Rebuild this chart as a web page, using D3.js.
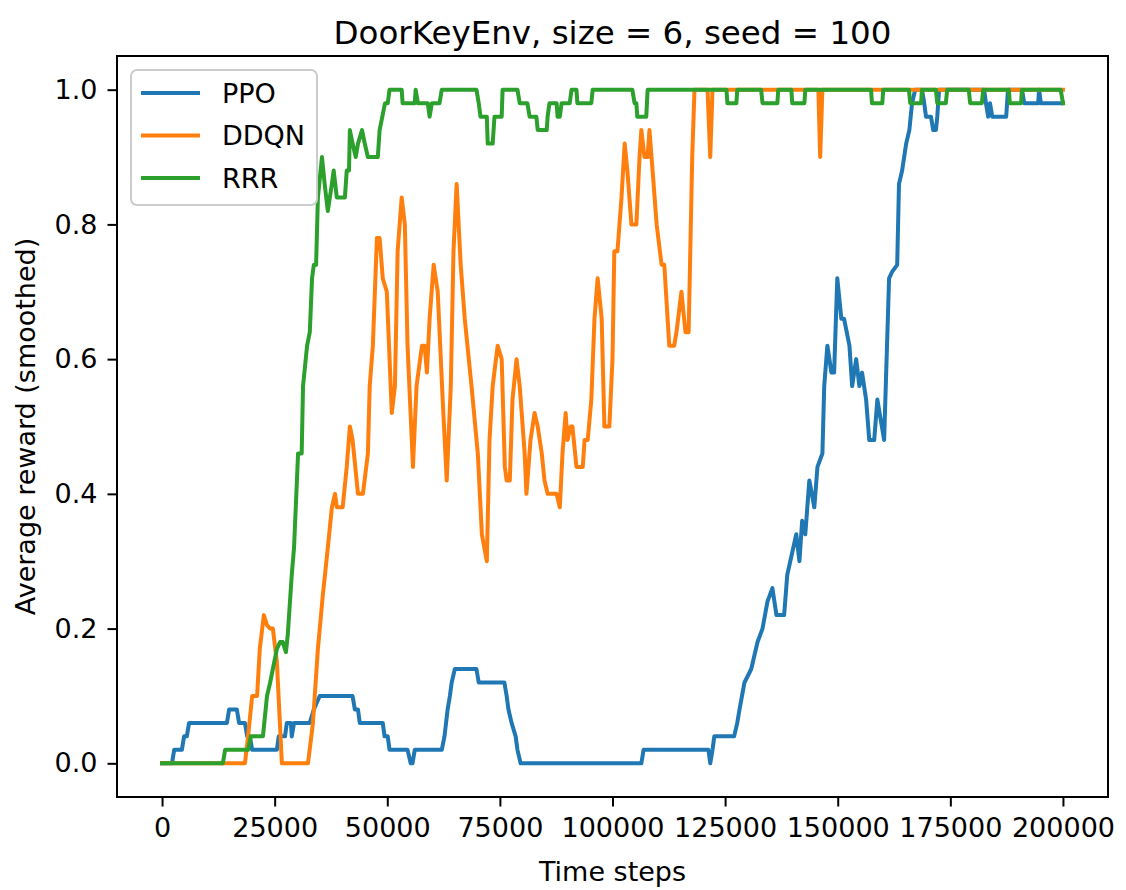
<!DOCTYPE html>
<html>
<head>
<meta charset="utf-8">
<script src="https://cdn.jsdelivr.net/npm/d3@7"></script>
<style>
  html, body { margin: 0; padding: 0; background: #fff; }
  text { font-family: "DejaVu Sans", sans-serif; fill: #000; }
</style>
</head>
<body>
<div id="chart"></div>
<script>
// Chart text
const title = 'DoorKeyEnv, size = 6, seed = 100';
const xLabel = 'Time steps';
const yLabel = 'Average reward (smoothed)';
const seriesNames = ['PPO', 'DDQN', 'RRR'];
const seriesColors = ['#1f77b4', '#ff7f0e', '#2ca02c'];
const xTicks = [0, 25000, 50000, 75000, 100000, 125000, 150000, 175000, 200000];
const yTicks = [0.0, 0.2, 0.4, 0.6, 0.8, 1.0];

// Smoothed reward, [time step, value]
const ppo = [
  [0, 0], [2200, 0], [2700, 0.02], [4400, 0.02], [4900, 0.04], [5500, 0.04], [6000, 0.06],
  [14400, 0.06], [14900, 0.08], [16600, 0.08], [17100, 0.06], [18400, 0.06], [18900, 0.04],
  [19500, 0.04], [20000, 0.02], [25500, 0.02], [25900, 0.04], [27300, 0.04], [27700, 0.06],
  [28600, 0.06], [28800, 0.04], [29300, 0.06], [32800, 0.06], [33700, 0.08], [35000, 0.10],
  [42300, 0.10], [42800, 0.08], [43500, 0.08], [43900, 0.06], [49000, 0.06], [49400, 0.04],
  [50100, 0.04], [50500, 0.02], [54500, 0.02], [55200, 0], [55600, 0], [56100, 0.02],
  [62100, 0.02], [62700, 0.04], [63400, 0.08], [63900, 0.10], [64300, 0.12], [65000, 0.14],
  [69800, 0.14], [70300, 0.12], [76000, 0.12], [76500, 0.10], [76900, 0.08], [77600, 0.06],
  [78500, 0.04], [78900, 0.02], [79600, 0], [106400, 0], [106900, 0.02], [121300, 0.02],
  [121700, 0], [122200, 0.02], [122600, 0.04], [127000, 0.04], [127700, 0.06], [128200, 0.08],
  [129300, 0.12], [130800, 0.14], [132200, 0.18], [133300, 0.20], [134400, 0.24], [135500, 0.26],
  [136400, 0.22], [138100, 0.22], [138800, 0.28], [140800, 0.34], [141500, 0.30], [142100, 0.36],
  [142800, 0.34], [143700, 0.42], [144800, 0.38], [145500, 0.44], [146600, 0.46], [147000, 0.56],
  [147700, 0.62], [148600, 0.58], [149200, 0.58], [149900, 0.72], [150800, 0.66], [151400, 0.66],
  [152600, 0.62], [153200, 0.56], [154100, 0.60], [154800, 0.56], [155400, 0.58], [156300, 0.54],
  [157000, 0.48], [158100, 0.48], [158800, 0.54], [160300, 0.48], [161400, 0.72], [162100, 0.73],
  [163200, 0.74], [163600, 0.86], [164300, 0.88], [165200, 0.92], [165900, 0.94], [166500, 0.98],
  [167200, 1.0], [168700, 1.0], [169200, 0.98], [169600, 0.96], [170700, 0.96], [171200, 0.94],
  [171800, 0.94], [172100, 0.96], [172500, 1.0], [182500, 1.0], [182900, 0.98], [183400, 0.96],
  [183800, 0.98], [184300, 0.96], [187400, 0.96], [187800, 1.0], [190900, 1.0], [191400, 0.98],
  [194500, 0.98], [194700, 1.0], [195100, 0.98], [200000, 0.98]
];

const ddqn = [
  [0, 0], [18400, 0], [19100, 0.04], [20000, 0.10], [21100, 0.10], [21700, 0.17], [22600, 0.22],
  [23300, 0.205], [24000, 0.20], [24600, 0.20], [25500, 0.15], [26600, 0], [32400, 0],
  [33500, 0.06], [34600, 0.17], [35700, 0.25], [36800, 0.32], [37700, 0.38], [38400, 0.40],
  [38800, 0.38], [40100, 0.38], [41000, 0.44], [41700, 0.50], [42300, 0.48], [43500, 0.40],
  [44600, 0.40], [45700, 0.46], [46100, 0.56], [46800, 0.62], [47700, 0.78], [48300, 0.78],
  [49000, 0.72], [49900, 0.70], [51000, 0.52], [51700, 0.56], [52300, 0.76], [53200, 0.84],
  [53900, 0.80], [54500, 0.62], [55700, 0.44], [56500, 0.56], [57700, 0.62], [58300, 0.62],
  [58800, 0.58], [59400, 0.66], [60300, 0.74], [61200, 0.70], [62300, 0.54], [63200, 0.42],
  [64100, 0.56], [64700, 0.76], [65400, 0.86], [66300, 0.74], [67200, 0.66], [68700, 0.56],
  [70100, 0.46], [71000, 0.34], [72100, 0.30], [72700, 0.48], [73400, 0.56], [74500, 0.62],
  [75400, 0.60], [76100, 0.44], [76500, 0.42], [77200, 0.42], [77800, 0.54], [78700, 0.60],
  [79400, 0.56], [80500, 0.46], [80900, 0.40], [81800, 0.48], [82700, 0.52], [83400, 0.50],
  [84300, 0.46], [84900, 0.42], [85600, 0.40], [87600, 0.40], [88300, 0.38], [88900, 0.46],
  [89600, 0.52], [90000, 0.48], [90700, 0.50], [91100, 0.50], [92000, 0.44], [93400, 0.44],
  [93800, 0.48], [94500, 0.48], [95300, 0.54], [96000, 0.66], [96700, 0.72], [97600, 0.66],
  [98200, 0.50], [99300, 0.50], [100000, 0.60], [100400, 0.76], [101100, 0.76], [102000, 0.84],
  [102700, 0.92], [103300, 0.88], [104200, 0.80], [105300, 0.80], [106000, 0.90], [106400, 0.94],
  [107100, 0.90], [107800, 0.90], [108200, 0.94], [108900, 0.88], [109800, 0.80], [110900, 0.74],
  [111500, 0.74], [112600, 0.62], [113700, 0.62], [114200, 0.64], [115300, 0.70], [116200, 0.64],
  [116900, 0.64], [117700, 0.90], [118200, 1.0], [121100, 1.0], [121700, 0.90], [122200, 1.0],
  [145700, 1.0], [146100, 0.90], [146600, 1.0], [200000, 1.0]
];

const rrr = [
  [0, 0], [13500, 0], [14000, 0.02], [19100, 0.02], [19700, 0.04], [22400, 0.04], [23300, 0.10],
  [24000, 0.12], [24600, 0.14], [25500, 0.17], [26200, 0.18], [26800, 0.18], [27500, 0.165],
  [27900, 0.19], [28800, 0.28], [29300, 0.32], [30200, 0.46], [31000, 0.46], [31300, 0.56],
  [32200, 0.62], [32800, 0.64], [33300, 0.72], [33700, 0.74], [34200, 0.74], [34600, 0.84],
  [35500, 0.90], [36100, 0.86], [36800, 0.82], [37700, 0.86], [38100, 0.88], [38800, 0.84],
  [40600, 0.84], [41000, 0.88], [41500, 0.88], [41700, 0.94], [42300, 0.92], [43000, 0.90],
  [43500, 0.92], [44400, 0.94], [45000, 0.92], [45700, 0.90], [47900, 0.90], [48300, 0.94],
  [49500, 0.98], [50100, 0.98], [50500, 1.0], [53200, 1.0], [53400, 0.98], [56100, 0.98],
  [56300, 1.0], [56800, 0.98], [59000, 0.98], [59400, 0.96], [59900, 0.98], [61600, 0.98],
  [62100, 1.0], [69800, 1.0], [70300, 0.98], [70700, 0.96], [72100, 0.96], [72300, 0.92],
  [73400, 0.92], [73800, 0.96], [75400, 0.96], [75600, 1.0], [78900, 1.0], [79400, 0.98],
  [81100, 0.98], [81600, 0.96], [83100, 0.96], [83400, 0.94], [85400, 0.94], [85600, 0.96],
  [86000, 0.98], [87600, 0.98], [87800, 0.96], [88300, 0.96], [88700, 0.98], [90500, 0.98],
  [90900, 1.0], [92000, 1.0], [92200, 0.98], [95300, 0.98], [95600, 1.0], [104400, 1.0],
  [104900, 0.98], [105300, 0.98], [105500, 0.96], [107500, 0.96], [107800, 1.0], [125300, 1.0],
  [125500, 0.98], [127500, 0.98], [127700, 1.0], [133000, 1.0], [133300, 0.98], [136600, 0.98],
  [136800, 1.0], [139700, 1.0], [139900, 0.98], [142600, 0.98], [142800, 1.0], [157400, 1.0],
  [157600, 0.98], [159900, 0.98], [160100, 1.0], [165800, 1.0], [166100, 0.98], [168500, 0.98],
  [168700, 1.0], [171800, 1.0], [172100, 0.98], [174000, 0.98], [174300, 1.0], [179100, 1.0],
  [179400, 0.98], [182000, 0.98], [182300, 1.0], [188000, 1.0], [188200, 0.98], [190700, 0.98],
  [190900, 1.0], [199500, 1.0], [200000, 0.98]
];

const series = [ppo, ddqn, rrr];

/*
 * Layout
 */
const width = 1126;
const height = 890;
const plot = { left: 117, right: 1108, top: 56, bottom: 797 };
const fontSize = 27;

const svg = d3.select('#chart')
  .append('svg')
  .attr('width', width)
  .attr('height', height);

// matplotlib style 5% margins around the data
const x = d3.scaleLinear()
  .domain([-10000, 210000])
  .range([plot.left, plot.right]);
const y = d3.scaleLinear()
  .domain([-0.05, 1.05])
  .range([plot.bottom, plot.top]);

/*
 * Lines
 */
const line = d3.line()
  .x((d) => x(d[0]))
  .y((d) => y(d[1]));

svg.append('defs').append('clipPath')
  .attr('id', 'plot-clip')
  .append('rect')
  .attr('x', plot.left)
  .attr('y', plot.top)
  .attr('width', plot.right - plot.left)
  .attr('height', plot.bottom - plot.top);

svg.append('g')
  .attr('clip-path', 'url(#plot-clip)')
  .selectAll('path')
  .data(series)
  .enter()
  .append('path')
  .attr('d', line)
  .attr('fill', 'none')
  .attr('stroke', (d, i) => seriesColors[i])
  .attr('stroke-width', 4)
  .attr('stroke-linejoin', 'round')
  .attr('stroke-linecap', 'square');

/*
 * Axes
 */
const xAxis = d3.axisBottom(x)
  .tickValues(xTicks)
  .tickFormat(d3.format('d'))
  .tickSizeInner(9.5)
  .tickSizeOuter(0)
  .tickPadding(9.5);
const yAxis = d3.axisLeft(y)
  .tickValues(yTicks)
  .tickFormat(d3.format('.1f'))
  .tickSizeInner(9.5)
  .tickSizeOuter(0)
  .tickPadding(10);

const gx = svg.append('g')
  .attr('transform', 'translate(0,' + plot.bottom + ')')
  .call(xAxis);
const gy = svg.append('g')
  .attr('transform', 'translate(' + plot.left + ',0)')
  .call(yAxis);

[gx, gy].forEach((g) => {
  g.select('.domain').remove();
  g.selectAll('line').attr('stroke', '#000').attr('stroke-width', 2);
  g.selectAll('text')
    .attr('font-family', '"DejaVu Sans", sans-serif')
    .attr('font-size', fontSize)
    .attr('fill', '#000');
});
gx.selectAll('text').attr('dy', '0.78em');

// Frame round the plot area
svg.append('rect')
  .attr('x', plot.left)
  .attr('y', plot.top)
  .attr('width', plot.right - plot.left)
  .attr('height', plot.bottom - plot.top)
  .attr('fill', 'none')
  .attr('stroke', '#000')
  .attr('stroke-width', 2);

/*
 * Texts
 */
svg.append('text')
  .attr('x', (plot.left + plot.right) / 2)
  .attr('y', 44)
  .attr('text-anchor', 'middle')
  .attr('font-size', 32.5)
  .text(title);

svg.append('text')
  .attr('x', (plot.left + plot.right) / 2)
  .attr('y', 881)
  .attr('text-anchor', 'middle')
  .attr('font-size', fontSize)
  .text(xLabel);

svg.append('text')
  .attr('transform', 'translate(35,' + (plot.top + plot.bottom) / 2 + ') rotate(-90)')
  .attr('text-anchor', 'middle')
  .attr('font-size', fontSize)
  .text(yLabel);

/*
 * Legend
 */
const legend = svg.append('g')
  .attr('transform', 'translate(131,70)');

legend.append('rect')
  .attr('width', 186)
  .attr('height', 135)
  .attr('rx', 6)
  .attr('fill', '#fff')
  .attr('fill-opacity', 0.8)
  .attr('stroke', '#cccccc')
  .attr('stroke-width', 2);

const items = legend.selectAll('.item')
  .data(seriesNames)
  .enter()
  .append('g')
  .attr('class', 'item')
  .attr('transform', (d, i) => 'translate(0,' + (23 + i * 42.5) + ')');

items.append('line')
  .attr('x1', 10)
  .attr('x2', 69)
  .attr('stroke', (d, i) => seriesColors[i])
  .attr('stroke-width', 4);

items.append('text')
  .attr('x', 91)
  .attr('dy', '0.36em')
  .attr('font-size', fontSize)
  .text((d) => d);
</script>
</body>
</html>
